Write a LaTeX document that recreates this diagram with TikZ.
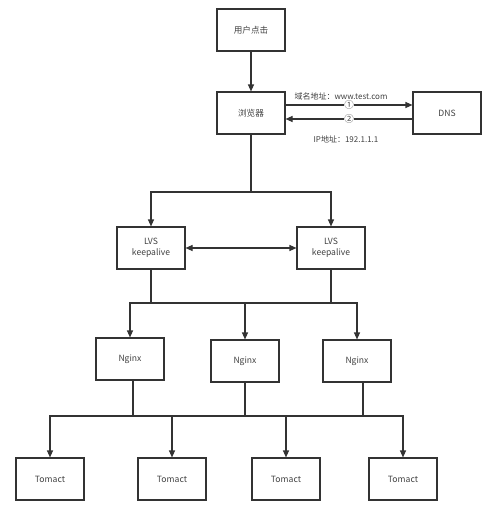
\documentclass[tikz,border=0pt]{standalone}
\usepackage{fontspec}
\setmainfont{Noto Sans CJK SC}
\usetikzlibrary{arrows.meta}
\begin{document}
\begin{tikzpicture}[x=1pt,y=-1pt,
  box/.style={draw=black!80, line width=1.1pt, minimum width=68pt, minimum height=42pt, inner sep=0pt,
    font=\fontsize{8.6}{11}\selectfont, align=center, text=black!75},
  wire/.style={draw=black!80, line width=1.1pt},
  conn/.style={wire, -{Triangle[length=7pt,width=6pt]}},
  both/.style={wire, {Triangle[length=7pt,width=6pt]}-{Triangle[length=7pt,width=6pt]}},
  lbl/.style={font=\fontsize{8}{10}\selectfont, text=black!75, inner sep=1pt},
  num/.style={font=\fontsize{9.5}{10}\selectfont, text=black!70, fill=white, inner sep=0.2pt}]
\useasboundingbox (0,0) rectangle (500,509);
\node[box] (user) at (251,30) {用户点击};
\node[box] (browser) at (251,113) {浏览器};
\node[box] (dns) at (447,113) {DNS};
\node[box] (lvs1) at (151,248) {LVS\\keepalive};
\node[box] (lvs2) at (331,248) {LVS\\keepalive};
\node[box] (ng1) at (130,359) {Nginx};
\node[box] (ng2) at (245,361) {Nginx};
\node[box] (ng3) at (357,361) {Nginx};
\node[box] (tc1) at (50,479) {Tomact};
\node[box] (tc2) at (172,479) {Tomact};
\node[box] (tc3) at (286,479) {Tomact};
\node[box] (tc4) at (403,479) {Tomact};
\node[lbl] (l1) at (341,96) {域名地址：www.test.com};
\node[lbl] (l2) at (346,139) {IP地址：192.1.1.1};
\coordinate (s1) at (251,192);
\coordinate (s2) at (245,303);
\coordinate (s3) at (245,416);
\draw[conn] (user) -- (browser);
\draw[conn] ([yshift=8pt]browser.east) -- ([yshift=8pt]dns.west)
  node[midway, num] (c1) {①};
\draw[conn] ([yshift=-6pt]dns.west) -- ([yshift=-6pt]browser.east)
  node[midway, num] (c2) {②};
\draw[wire] (browser.south) -- (s1);
\draw[conn] (s1) -| (lvs1.north);
\draw[conn] (s1) -| (lvs2.north);
\draw[both] (lvs1) -- (lvs2);
\draw[wire] (lvs1.south) -- (lvs1.south |- s2);
\draw[wire] (lvs2.south) -- (lvs2.south |- s2);
\draw[conn] (s2) -| (ng1.north);
\draw[conn] (s2) -- (ng2.north);
\draw[conn] (s2) -| (ng3.north);
\draw[wire] ([xshift=3pt]ng1.south) -- ([xshift=3pt]ng1.south |- s3);
\draw[wire] (ng2.south) -- (s3);
\draw[wire] ([xshift=6pt]ng3.south) -- ([xshift=6pt]ng3.south |- s3);
\draw[conn] (s3) -| (tc1.north);
\draw[conn] (s3) -| (tc2.north);
\draw[conn] (s3) -| (tc3.north);
\draw[conn] (s3) -| (tc4.north);
\end{tikzpicture}
\end{document}
